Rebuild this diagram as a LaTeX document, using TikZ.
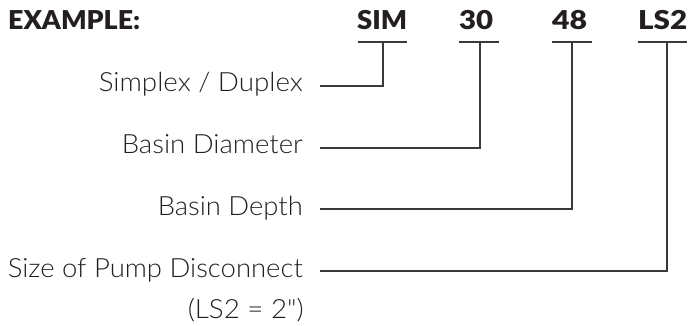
\documentclass[tikz,border=0pt]{standalone}
\usepackage{fontspec}
\usepackage{graphicx}
\setmainfont{Lato}
\IfFontExistsTF{Lato Light}{\newfontfamily\lightf{Lato Light}}{\newfontfamily\lightf{Lato}}
\IfFontExistsTF{Lato Black}{\newfontfamily\heavyf{Lato Black}}{\newfontfamily\heavyf{Lato}[UprightFont=*-Bold]}
\definecolor{txt}{HTML}{231F20}
\definecolor{ln}{HTML}{3A3A3A}
\newcommand\fw[2]{\resizebox{#1pt}{\height}{#2}}
\begin{document}
\begin{tikzpicture}[x=1pt,y=-1pt,
  lbl/.style={inner sep=0pt, anchor=base east, font=\lightf\fontsize{26.5}{30}\selectfont, text=txt},
  code/.style={inner sep=0pt, anchor=base west, font=\heavyf\fontsize{26}{30}\selectfont, text=txt},
  conn/.style={draw=ln, line width=1.4pt},
  uline/.style={draw=ln, line width=1.4pt}]
\useasboundingbox (0,0) rectangle (694,326);

\node[code] (ex) at (8,30) {\fw{132}{EXAMPLE:}};
\node[code] (sim) at (357,30) {\fw{50}{SIM}};
\node[code] (c30) at (459,30) {\fw{34}{30}};
\node[code] (c48) at (552,30) {\fw{35}{48}};
\node[code] (ls2) at (638,30) {\fw{49}{LS2}};

\coordinate (simA) at (358,42); \coordinate (simB) at (407,42); \coordinate (simU) at (383,42);
\coordinate (c30A) at (459,42); \coordinate (c30B) at (499,42); \coordinate (c30U) at (480,42);
\coordinate (c48A) at (552,42); \coordinate (c48B) at (592,42); \coordinate (c48U) at (572,42);
\coordinate (ls2A) at (638,42); \coordinate (ls2B) at (687,42); \coordinate (ls2U) at (667,42);
\draw[uline] (simA) -- (simB);
\draw[uline] (c30A) -- (c30B);
\draw[uline] (c48A) -- (c48B);
\draw[uline] (ls2A) -- (ls2B);

\node[lbl] (l1) at (303,92) {\fw{204}{Simplex / Duplex}};
\node[lbl] (l2) at (303,154) {\fw{181}{Basin Diameter}};
\node[lbl] (l3) at (303,215) {\fw{145}{Basin Depth}};
\node[lbl] (l4) at (303,277) {\fw{295}{Size of Pump Disconnect}};
\node[lbl] (l5) at (304,318) {\fw{116}{(LS2 = 2")}};

\coordinate (s1) at (320,86);
\coordinate (s2) at (320,148);
\coordinate (s3) at (320,209);
\coordinate (s4) at (320,271);
\draw[conn] (s1) -| (simU);
\draw[conn] (s2) -| (c30U);
\draw[conn] (s3) -| (c48U);
\draw[conn] (s4) -| (ls2U);
\end{tikzpicture}
\end{document}
